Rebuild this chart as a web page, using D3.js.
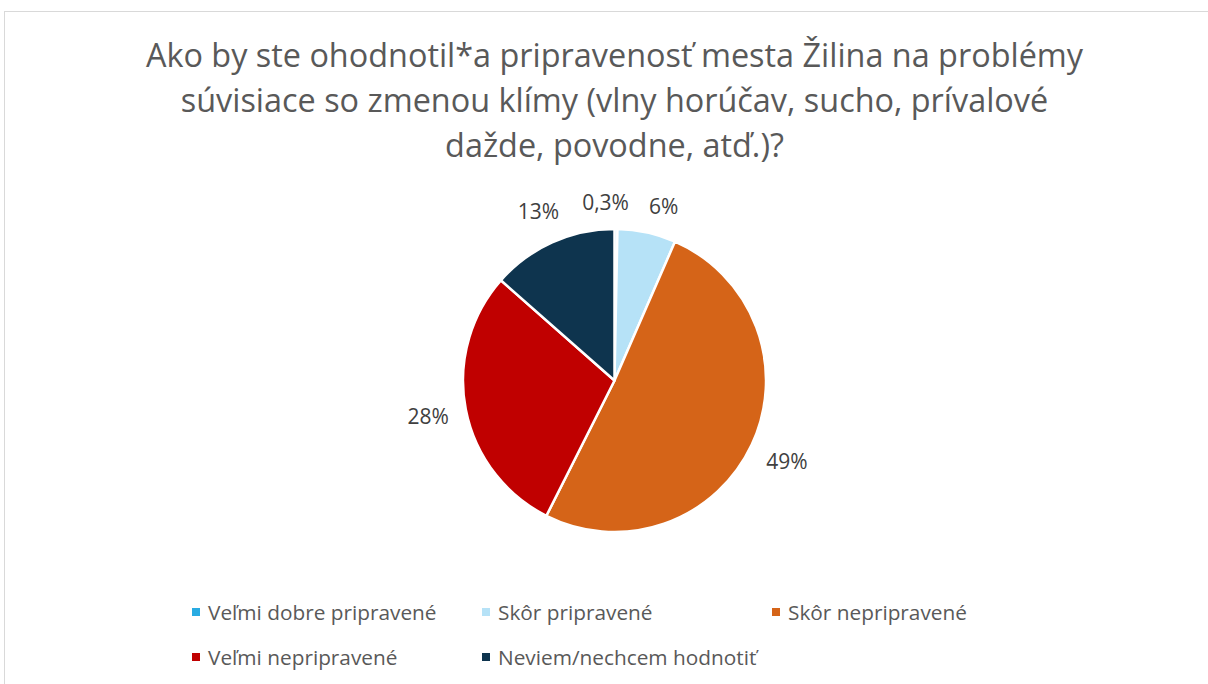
<!DOCTYPE html>
<html>
<head>
<meta charset="utf-8">
<script src="https://cdn.jsdelivr.net/npm/d3@7"></script>
<style>
  html, body { margin: 0; padding: 0; background: #fff; }
  svg { display: block; }
</style>
</head>
<body>
<div id="chart"></div>
<script>
// chart data
var titleLines = [
    'Ako by ste ohodnotil*a pripravenosť mesta Žilina na problémy',
    'súvisiace so zmenou klímy (vlny horúčav, sucho, prívalové',
    'dažde, povodne, atď.)?'
];
var categories = ['Veľmi dobre pripravené', 'Skôr pripravené', 'Skôr nepripravené', 'Veľmi nepripravené', 'Neviem/nechcem hodnotiť'];
var values = [0.3, 6, 49, 28, 13];
var valueLabels = ['0,3%', '6%', '49%', '28%', '13%'];
var colors = ['#29abe2', '#b6e2f7', '#d56418', '#c00000', '#0e344e'];

var width = 1208, height = 684;
var cx = 614.5, cy = 380.5, radius = 151.5;

var svg = d3.select('#chart').append('svg')
    .attr('width', width)
    .attr('height', height);

// chart frame (runs off the right/bottom like the screenshot)
svg.append('rect')
    .attr('x', 4.5).attr('y', 11.5)
    .attr('width', 1230).attr('height', 700)
    .attr('fill', '#fff')
    .attr('stroke', '#d9d9d9')
    .attr('stroke-width', 1);

// title
svg.append('g').selectAll('text').data(titleLines).enter().append('text')
    .attr('x', cx)
    .attr('y', function(d, i) { return 67 + i * 45; })
    .attr('text-anchor', 'middle')
    .style('font-family', '"Open Sans", sans-serif')
    .style('font-size', '32.4px')
    .style('fill', '#595959')
    .text(function(d) { return d; });

// pie
var pie = d3.pie().sort(null).value(function(d) { return d; });
var arcs = pie(values);
var arc = d3.arc().innerRadius(0).outerRadius(radius);

var g = svg.append('g').attr('transform', 'translate(' + cx + ',' + cy + ')');
g.selectAll('path').data(arcs).enter().append('path')
    .attr('d', arc)
    .attr('fill', function(d, i) { return colors[i]; })
    .attr('stroke', '#fff')
    .attr('stroke-width', 2.5)
    .attr('stroke-linejoin', 'round');

// data labels, outside end, nudged apart when they crowd
var labels = g.selectAll('text.lbl').data(arcs).enter().append('text')
    .attr('class', 'lbl')
    .attr('text-anchor', 'middle')
    .attr('dy', '0.36em')
    .style('font-family', '"Open Sans", sans-serif')
    .style('font-size', '21px')
    .style('fill', '#404040')
    .text(function(d, i) { return valueLabels[i]; });

var gap = 16;
var lab = [];
labels.each(function(d) {
    var bb = this.getBBox();
    lab.push({ el: this, a: (d.startAngle + d.endAngle) / 2, w: bb.width, h: 20 });
});
function place(o) {
    var ext = Math.abs(Math.sin(o.a)) * o.w / 2 + Math.abs(Math.cos(o.a)) * o.h / 2;
    var r = radius + gap + ext;
    o.x = Math.sin(o.a) * r;
    o.y = -Math.cos(o.a) * r;
}
lab.forEach(place);
for (var it = 0; it < 200; it++) {
    var moved = false;
    for (var i = 0; i < lab.length; i++) {
        for (var j = i + 1; j < lab.length; j++) {
            var p = lab[i], q = lab[j];
            var dx = Math.abs(p.x - q.x) - (p.w + q.w) / 2;
            var dy = Math.abs(p.y - q.y) - (p.h + q.h) / 2;
            if (dx < 20 && dy < 0) {
                // push apart along the circle
                var dir = (q.x > p.x) ? 1 : -1;
                var step = 0.003;
                var sp = (Math.cos(p.a) > 0 ? 1 : -1) * dir;
                p.a -= step * sp; q.a += step * sp;
                place(p); place(q);
                moved = true;
            }
        }
    }
    if (!moved) break;
}
lab.forEach(function(o) {
    d3.select(o.el).attr('x', o.x).attr('y', o.y);
});

// legend
var legX = [192, 482, 772];
var legY = [612, 657];
var leg = svg.append('g').selectAll('g').data(categories).enter().append('g')
    .attr('transform', function(d, i) {
        return 'translate(' + legX[i % 3] + ',' + legY[Math.floor(i / 3)] + ')';
    });
leg.append('rect')
    .attr('x', 0).attr('y', -4)
    .attr('width', 8).attr('height', 8)
    .attr('fill', function(d, i) { return colors[i]; });
leg.append('text')
    .attr('x', 16)
    .attr('dy', '0.36em')
    .style('font-family', '"Open Sans", sans-serif')
    .style('font-size', '20.8px')
    .style('fill', '#595959')
    .text(function(d) { return d; });
</script>
</body>
</html>
